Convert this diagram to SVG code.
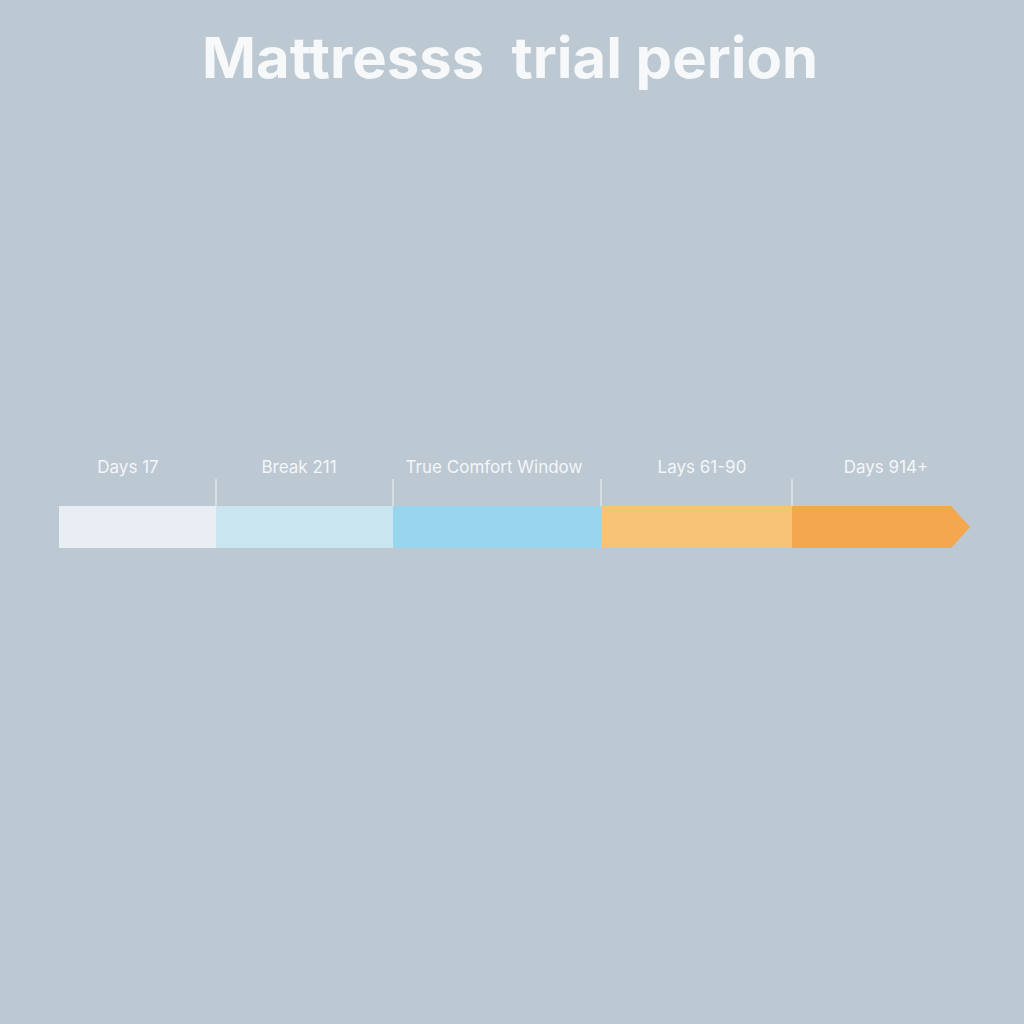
<svg xmlns="http://www.w3.org/2000/svg" width="1024" height="1024" viewBox="0 0 1024 1024">
<style>
.lbl{font-family:"Inter","Liberation Sans",sans-serif;font-size:17px;fill:#F4F6F9;text-anchor:middle}
.title{font-family:"Inter","Liberation Sans",sans-serif;font-size:56px;font-weight:700;fill:#F6F8FA;text-anchor:middle;white-space:pre}
.tick{stroke:#E8EDF2;stroke-width:1.2}
</style>
<rect width="1024" height="1024" fill="#BCC8D2"/>
<text class="title" x="510" y="78" textLength="616" lengthAdjust="spacingAndGlyphs" xml:space="preserve">Mattresss  trial perion</text>
<g id="connectors">
<line class="tick" x1="216" y1="479" x2="216" y2="506"/>
<line class="tick" x1="393" y1="479" x2="393" y2="506"/>
<line class="tick" x1="601" y1="479" x2="601" y2="506"/>
<line class="tick" x1="792" y1="479" x2="792" y2="506"/>
</g>
<g id="seg1"><rect x="59" y="506" width="157" height="42" fill="#E9EEF5"/><text class="lbl" x="128" y="473">Days 17</text></g>
<g id="seg2"><rect x="216" y="506" width="177" height="42" fill="#C8E5F0"/><text class="lbl" x="299" y="473">Break 211</text></g>
<g id="seg3"><rect x="393" y="506" width="208" height="42" fill="#98D5EF"/><text class="lbl" x="494" y="473">True Comfort Window</text></g>
<g id="seg4"><rect x="601" y="506" width="191" height="42" fill="#F6C474"/><text class="lbl" x="702" y="473">Lays 61-90</text></g>
<g id="seg5"><polygon points="792,506 951,506 970,527 951,548 792,548" fill="#F4A74D"/><text class="lbl" x="886" y="473">Days 914+</text></g>
</svg>
